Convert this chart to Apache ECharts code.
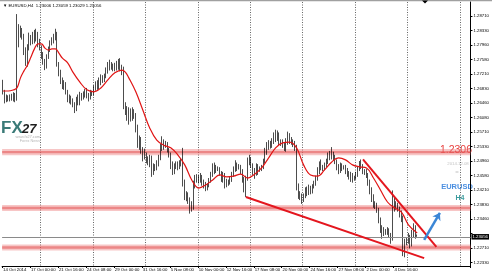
<!DOCTYPE html>
<html>
<head>
<meta charset="utf-8">
<script src="https://cdn.jsdelivr.net/npm/echarts@6/dist/echarts.min.js"></script>
<style>html,body{margin:0;padding:0;background:#fff}#c{width:492px;height:274px}</style>
</head>
<body>
<div id="c"></div>
<script>
// ---- data (EURUSD H4) ----
const barOpen = [
1.2700,1.2675,1.2652,1.2660,1.2655,1.2662,1.2657,1.2666,1.2658,1.2805,
1.2825,1.2832,1.2818,1.2780,1.2745,1.2790,1.2815,1.2805,1.2820,1.2812,
1.2825,1.2800,1.2790,1.2770,1.2752,1.2740,1.2768,1.2785,1.2800,1.2808,
1.2815,1.2822,1.2745,1.2725,1.2705,1.2690,1.2695,1.2675,1.2655,1.2660,
1.2650,1.2642,1.2630,1.2655,1.2648,1.2665,1.2660,1.2668,1.2675,1.2665,
1.2660,1.2672,1.2670,1.2685,1.2695,1.2688,1.2700,1.2712,1.2705,1.2715,
1.2730,1.2745,1.2738,1.2742,1.2735,1.2742,1.2738,1.2750,1.2735,1.2725,
1.2640,1.2630,1.2610,1.2625,1.2608,1.2625,1.2615,1.2580,1.2540,1.2550,
1.2525,1.2505,1.2510,1.2500,1.2492,1.2505,1.2470,1.2482,1.2478,1.2490,
1.2505,1.2530,1.2545,1.2535,1.2540,1.2525,1.2512,1.2485,1.2470,1.2480,
1.2488,1.2480,1.2490,1.2495,1.2440,1.2405,1.2410,1.2395,1.2375,1.2385,
1.2430,1.2448,1.2450,1.2445,1.2455,1.2440,1.2435,1.2425,1.2432,1.2445,
1.2460,1.2480,1.2470,1.2478,1.2475,1.2465,1.2450,1.2460,1.2435,1.2442,
1.2440,1.2448,1.2460,1.2475,1.2485,1.2478,1.2482,1.2470,1.2450,1.2425,
1.2450,1.2490,1.2500,1.2485,1.2470,1.2465,1.2482,1.2470,1.2475,1.2480,
1.2495,1.2520,1.2530,1.2540,1.2535,1.2548,1.2560,1.2552,1.2565,1.2540,
1.2545,1.2538,1.2530,1.2545,1.2560,1.2550,1.2545,1.2540,1.2530,1.2430,
1.2410,1.2405,1.2395,1.2405,1.2420,1.2412,1.2425,1.2418,1.2430,1.2438,
1.2450,1.2470,1.2485,1.2480,1.2478,1.2485,1.2495,1.2510,1.2505,1.2515,
1.2505,1.2495,1.2480,1.2472,1.2485,1.2478,1.2480,1.2470,1.2462,1.2455,
1.2460,1.2450,1.2452,1.2460,1.2475,1.2488,1.2482,1.2470,1.2468,1.2460,
1.2440,1.2420,1.2400,1.2385,1.2380,1.2370,1.2345,1.2320,1.2310,1.2315,
1.2312,1.2318,1.2305,1.2300,1.2390,1.2375,1.2380,1.2372,1.2360,1.2345,
1.2270,1.2285,1.2290,1.2300,1.2282,1.2305,1.2320,1.2301];
const barClose = [
1.2675,1.2652,1.2660,1.2655,1.2662,1.2657,1.2666,1.2658,1.2805,1.2825,
1.2832,1.2818,1.2780,1.2745,1.2790,1.2815,1.2805,1.2820,1.2812,1.2825,
1.2800,1.2790,1.2770,1.2752,1.2740,1.2768,1.2785,1.2800,1.2808,1.2815,
1.2822,1.2745,1.2725,1.2705,1.2690,1.2695,1.2675,1.2655,1.2660,1.2650,
1.2642,1.2630,1.2655,1.2648,1.2665,1.2660,1.2668,1.2675,1.2665,1.2660,
1.2672,1.2670,1.2685,1.2695,1.2688,1.2700,1.2712,1.2705,1.2715,1.2730,
1.2745,1.2738,1.2742,1.2735,1.2742,1.2738,1.2750,1.2735,1.2725,1.2640,
1.2630,1.2610,1.2625,1.2608,1.2625,1.2615,1.2580,1.2540,1.2550,1.2525,
1.2505,1.2520,1.2500,1.2492,1.2505,1.2470,1.2482,1.2478,1.2490,1.2505,
1.2530,1.2545,1.2535,1.2540,1.2525,1.2512,1.2485,1.2470,1.2480,1.2488,
1.2480,1.2490,1.2495,1.2440,1.2405,1.2410,1.2395,1.2375,1.2385,1.2430,
1.2448,1.2455,1.2445,1.2455,1.2440,1.2435,1.2425,1.2432,1.2445,1.2460,
1.2480,1.2470,1.2478,1.2475,1.2465,1.2450,1.2460,1.2435,1.2442,1.2440,
1.2448,1.2460,1.2475,1.2485,1.2478,1.2482,1.2470,1.2450,1.2425,1.2450,
1.2490,1.2500,1.2485,1.2470,1.2465,1.2482,1.2470,1.2475,1.2480,1.2495,
1.2520,1.2530,1.2540,1.2535,1.2548,1.2560,1.2552,1.2565,1.2540,1.2545,
1.2538,1.2530,1.2545,1.2560,1.2550,1.2545,1.2540,1.2530,1.2430,1.2410,
1.2405,1.2390,1.2405,1.2420,1.2412,1.2425,1.2418,1.2430,1.2438,1.2450,
1.2470,1.2485,1.2480,1.2478,1.2485,1.2495,1.2510,1.2505,1.2515,1.2505,
1.2495,1.2480,1.2472,1.2485,1.2478,1.2480,1.2470,1.2462,1.2455,1.2460,
1.2450,1.2452,1.2460,1.2475,1.2488,1.2482,1.2470,1.2468,1.2460,1.2440,
1.2420,1.2400,1.2385,1.2380,1.2370,1.2345,1.2320,1.2310,1.2315,1.2312,
1.2318,1.2305,1.2300,1.2390,1.2375,1.2380,1.2372,1.2360,1.2345,1.2270,
1.2285,1.2290,1.2300,1.2282,1.2305,1.2320,1.2301,1.23056];
const barLow = [
1.2668,1.2645,1.2648,1.2650,1.2650,1.2652,1.2650,1.2648,1.2652,1.2790,
1.2815,1.2810,1.2770,1.2742,1.2740,1.2782,1.2795,1.2798,1.2800,1.2805,
1.2790,1.2782,1.2760,1.2745,1.2731,1.2735,1.2760,1.2778,1.2795,1.2800,
1.2808,1.2740,1.2715,1.2695,1.2682,1.2680,1.2668,1.2648,1.2645,1.2642,
1.2635,1.2620,1.2625,1.2640,1.2640,1.2652,1.2655,1.2660,1.2658,1.2650,
1.2655,1.2664,1.2665,1.2678,1.2680,1.2682,1.2692,1.2698,1.2700,1.2710,
1.2722,1.2730,1.2732,1.2728,1.2728,1.2730,1.2732,1.2728,1.2718,1.2630,
1.2615,1.2600,1.2590,1.2598,1.2600,1.2605,1.2570,1.2530,1.2525,1.2515,
1.2495,1.2500,1.2490,1.2485,1.2480,1.2455,1.2460,1.2470,1.2472,1.2482,
1.2498,1.2522,1.2525,1.2530,1.2518,1.2505,1.2475,1.2460,1.2462,1.2475,
1.2472,1.2475,1.2482,1.2430,1.2395,1.2392,1.2385,1.2360,1.2365,1.2370,
1.2425,1.2440,1.2438,1.2440,1.2432,1.2425,1.2418,1.2420,1.2428,1.2440,
1.2455,1.2462,1.2465,1.2470,1.2458,1.2442,1.2440,1.2425,1.2428,1.2432,
1.2435,1.2442,1.2455,1.2468,1.2470,1.2474,1.2462,1.2440,1.2415,1.2403,
1.2445,1.2485,1.2478,1.2460,1.2450,1.2458,1.2460,1.2468,1.2470,1.2475,
1.2490,1.2512,1.2525,1.2528,1.2530,1.2540,1.2545,1.2548,1.2535,1.2535,
1.2530,1.2522,1.2520,1.2538,1.2540,1.2538,1.2532,1.2522,1.2420,1.2398,
1.2395,1.2385,1.2390,1.2400,1.2405,1.2408,1.2410,1.2412,1.2425,1.2432,
1.2445,1.2462,1.2472,1.2470,1.2472,1.2480,1.2488,1.2498,1.2500,1.2498,
1.2488,1.2472,1.2462,1.2465,1.2470,1.2474,1.2462,1.2455,1.2448,1.2442,
1.2440,1.2445,1.2448,1.2455,1.2470,1.2475,1.2462,1.2460,1.2452,1.2432,
1.2410,1.2390,1.2375,1.2372,1.2362,1.2335,1.2310,1.2295,1.2302,1.2305,
1.2305,1.2298,1.2282,1.2290,1.2365,1.2370,1.2365,1.2350,1.2338,1.2250,
1.2247,1.2278,1.2282,1.2270,1.2275,1.2298,1.2295,1.2300];
const barHigh = [
1.2706,1.2680,1.2668,1.2666,1.2668,1.2670,1.2674,1.2672,1.2876,1.2850,
1.2846,1.2840,1.2825,1.2790,1.2798,1.2828,1.2822,1.2830,1.2835,1.2838,
1.2830,1.2812,1.2795,1.2778,1.2760,1.2772,1.2792,1.2808,1.2816,1.2825,
1.2838,1.2830,1.2752,1.2732,1.2712,1.2705,1.2700,1.2680,1.2668,1.2665,
1.2658,1.2648,1.2662,1.2668,1.2675,1.2672,1.2676,1.2682,1.2685,1.2672,
1.2680,1.2678,1.2692,1.2702,1.2705,1.2712,1.2720,1.2718,1.2722,1.2738,
1.2752,1.2758,1.2752,1.2748,1.2750,1.2755,1.2760,1.2762,1.2745,1.2740,
1.2648,1.2638,1.2635,1.2632,1.2635,1.2630,1.2620,1.2590,1.2562,1.2558,
1.2532,1.2528,1.2518,1.2508,1.2512,1.2510,1.2490,1.2488,1.2498,1.2512,
1.2540,1.2560,1.2552,1.2548,1.2545,1.2530,1.2518,1.2495,1.2490,1.2495,
1.2495,1.2498,1.2502,1.2530,1.2448,1.2418,1.2415,1.2402,1.2392,1.2445,
1.2460,1.2462,1.2460,1.2465,1.2460,1.2448,1.2442,1.2438,1.2452,1.2468,
1.2490,1.2492,1.2486,1.2482,1.2480,1.2470,1.2468,1.2465,1.2450,1.2448,
1.2455,1.2468,1.2482,1.2498,1.2492,1.2488,1.2486,1.2475,1.2455,1.2458,
1.2505,1.2512,1.2505,1.2490,1.2478,1.2490,1.2488,1.2482,1.2486,1.2502,
1.2530,1.2545,1.2550,1.2548,1.2555,1.2570,1.2577,1.2575,1.2570,1.2552,
1.2552,1.2545,1.2555,1.2572,1.2568,1.2558,1.2552,1.2548,1.2538,1.2438,
1.2418,1.2412,1.2412,1.2428,1.2430,1.2435,1.2432,1.2436,1.2445,1.2458,
1.2480,1.2495,1.2500,1.2486,1.2492,1.2502,1.2518,1.2522,1.2532,1.2520,
1.2512,1.2500,1.2488,1.2492,1.2490,1.2485,1.2486,1.2478,1.2470,1.2468,
1.2465,1.2458,1.2468,1.2482,1.2496,1.2500,1.2488,1.2475,1.2475,1.2465,
1.2448,1.2428,1.2410,1.2392,1.2388,1.2375,1.2350,1.2330,1.2325,1.2320,
1.2325,1.2322,1.2310,1.2420,1.2405,1.2392,1.2388,1.2378,1.2368,1.2355,
1.2295,1.2298,1.2310,1.2305,1.2318,1.2335,1.2330,1.2306];
// moving average: [bar index, price]
const maPoints = [
[0,1.2677],[3,1.2677],[6,1.2680],[8,1.2685],[10,1.2711],[12,1.2729],[14,1.2744],[16,1.2765],
[18,1.2786],[20,1.2799],[22,1.2799],[24,1.2788],[26,1.2783],[28,1.2786],[30,1.2786],[32,1.2775],
[34,1.2762],[37,1.2750],[40,1.2726],[44,1.2700],[48,1.2680],[52,1.2675],[56,1.2685],[60,1.2706],
[64,1.2724],[68,1.2731],[70,1.2726],[72,1.2711],[76,1.2675],[80,1.2628],[84,1.2581],[88,1.2550],
[92,1.2537],[96,1.2530],[100,1.2512],[104,1.2486],[108,1.2447],[112,1.2426],[116,1.2434],[120,1.2447],
[124,1.2460],[128,1.2455],[132,1.2457],[136,1.2462],[140,1.2452],[144,1.2462],[148,1.2478],[152,1.2504],
[156,1.2530],[160,1.2543],[164,1.2545],[168,1.2530],[172,1.2486],[176,1.2460],[180,1.2457],[184,1.2473],
[188,1.2493],[192,1.2504],[196,1.2499],[200,1.2486],[204,1.2481],[208,1.2478],[212,1.2452],[216,1.2421],
[220,1.2390],[224,1.2375],[228,1.2364],[232,1.2331],[237,1.2310]];
// drawn objects: [bar index, price]
const lowerTrend = [[139,1.2403],[241,1.2245]];
const upperTrend = [[206,1.2500],[248,1.2274]];
const arrowLine = [[241,1.2292],[250,1.2362]];
const levelBands = [1.2519, 1.23745, 1.22723];
const lastPrice = 1.23056;
const yTickValues = [1.28710,1.28330,1.27960,1.27580,1.27210,1.26830,1.26460,1.26080,1.25710,1.25330,1.24960,1.24580,1.24210,1.23830,1.23460,1.23080,1.22710,1.22330];
const yLabelValues = yTickValues.filter(v => v !== 1.23080);
const xTickLabels = ['14 Oct 2014','17 Oct 00:00','21 Oct 16:00','24 Oct 08:00','29 Oct 00:00','31 Oct 16:00','5 Nov 08:00','10 Nov 00:00','12 Nov 16:00','17 Nov 08:00','20 Nov 00:00','24 Nov 16:00','27 Nov 08:00','2 Dec 00:00','4 Dec 16:00'];
const labelStep = 16;

// ---- H4 time categories (weekdays only), incl. empty right shift ----
const cats = [], weekStart = [];
let t = Date.UTC(2014, 9, 14, 8);
while (cats.length < 268) {
  const d = new Date(t), wd = d.getUTCDay();
  if (wd !== 0 && wd !== 6) {
    cats.push(d.toISOString().slice(0, 16).replace('T', ' '));
    weekStart.push(wd === 1 && d.getUTCHours() === 0);
  }
  t += 4 * 3600 * 1000;
}
const candles = barOpen.map((o, i) => [o, barClose[i], barLow[i], barHigh[i]]);
const isLabel = i => i % labelStep === 0 && (i / labelStep) < xTickLabels.length;
const pt = p => ({ coord: [cats[p[0]], p[1]] });

const bandAreas = [];
levelBands.forEach(c => {
  bandAreas.push([{ yAxis: c + 0.0008, itemStyle: { color: 'rgba(236,120,120,0.42)' } }, { yAxis: c - 0.0008 }]);
  bandAreas.push([{ yAxis: c + 0.0003, itemStyle: { color: 'rgba(226,72,72,0.5)' } }, { yAxis: c - 0.0003 }]);
});

const FONT = 'Liberation Sans';
const chart = echarts.init(document.getElementById('c'), null, { renderer: 'canvas' });
chart.setOption({
  animation: false,
  backgroundColor: '#fff',
  grid: { left: 0, right: 18, top: 2, bottom: 8, containLabel: false },
  xAxis: {
    type: 'category', data: cats, boundaryGap: true,
    axisLine: { lineStyle: { color: '#000', width: 1 } },
    axisTick: { show: true, interval: i => isLabel(i), length: 2, lineStyle: { color: '#000' } },
    axisLabel: { interval: i => isLabel(i), formatter: (v, i) => xTickLabels[i / labelStep], fontSize: 4.3, fontFamily: FONT, color: '#000', align: 'left', margin: 1.5 },
    splitLine: { show: true, interval: i => weekStart[i], lineStyle: { color: '#666', type: [1, 1.5], width: 1 } }
  },
  yAxis: {
    type: 'value', position: 'right', min: 1.22245, max: 1.29072, scale: true,
    axisLine: { show: true, lineStyle: { color: '#000', width: 1 } },
    axisTick: { show: true, length: 2, customValues: yTickValues, lineStyle: { color: '#000' } },
    axisLabel: { customValues: yLabelValues, formatter: v => v.toFixed(5), fontSize: 4.3, fontFamily: FONT, color: '#000', margin: 3 },
    splitLine: { show: false }
  },
  series: [
    { type: 'line', name: 'bands', data: [], z: 1, silent: true,
      markArea: { silent: true, data: bandAreas } },
    { type: 'candlestick', name: 'EURUSD', data: candles, z: 3, barWidth: 1.2,
      itemStyle: { color: '#ffffff', color0: '#000000', borderColor: '#000', borderColor0: '#000', borderWidth: 0.7 },
      markLine: { silent: true, symbol: ['none', 'none'], label: { show: false },
        data: [
          { yAxis: lastPrice, lineStyle: { color: '#8a8a8a', width: 1, type: 'solid' },
            label: { show: true, position: 'end', distance: 1, formatter: lastPrice.toFixed(5), backgroundColor: '#000', color: '#fff', fontSize: 4.3, fontFamily: FONT, padding: [1, 1, 0.5, 1] } },
          [Object.assign(pt(lowerTrend[0]), { lineStyle: { color: '#e4161e', width: 2, type: 'solid' } }), pt(lowerTrend[1])],
          [Object.assign(pt(upperTrend[0]), { lineStyle: { color: '#e4161e', width: 2, type: 'solid' } }), pt(upperTrend[1])]
        ] } },
    { type: 'line', name: 'MA', data: maPoints.map(p => [cats[p[0]], p[1]]), z: 4, smooth: 0.4,
      symbol: 'none', lineStyle: { color: '#e01414', width: 1.2 },
      markLine: { silent: true, symbol: ['none', 'arrow'], symbolSize: 7, label: { show: false },
        lineStyle: { color: '#3b86d6', width: 2.5, type: 'solid' },
        data: [[pt(arrowLine[0]), pt(arrowLine[1])]] } }
  ],
  graphic: [
    { type: 'rect', shape: { x: 0, y: 0, width: 492, height: 1.2 }, style: { fill: '#a0a0a0' }, silent: true },
    { type: 'polygon', shape: { points: [[422, 0.5], [428, 0.5], [425, 3.5]] }, style: { fill: '#000' }, silent: true },
    { type: 'text', x: 3, y: 5.5, style: { text: '▼ EURUSD,H4  1.23006 1.23059 1.23029 1.23056', font: '4.3px ' + FONT, fill: '#000', verticalAlign: 'middle' }, silent: true },
    { type: 'text', x: 1, y: 128, style: { text: 'FX', font: 'bold 17px ' + FONT, fill: '#3a7a77', verticalAlign: 'middle' }, silent: true },
    { type: 'text', x: 22, y: 129.5, style: { text: '27', font: 'italic bold 13px ' + FONT, fill: '#1e1e1e', verticalAlign: 'middle' }, silent: true },
    { type: 'text', x: 40, y: 136.5, style: { text: 'www.fx27.com', font: '3.8px ' + FONT, fill: '#b0b0b0', align: 'right', verticalAlign: 'middle' }, silent: true },
    { type: 'text', x: 40, y: 140.5, style: { text: 'Forex News', font: '3.8px ' + FONT, fill: '#b8b8b8', align: 'right', verticalAlign: 'middle' }, silent: true },
    { type: 'text', x: 472, y: 150, style: { text: '1.2306', font: '10.5px ' + FONT, fill: '#e8413f', align: 'right', verticalAlign: 'middle' }, silent: true },
    { type: 'text', x: 458, y: 163.5, style: { text: '2014.12.08', font: '4.3px ' + FONT, fill: '#c4c4c4', align: 'center', verticalAlign: 'middle' }, silent: true },
    { type: 'text', x: 457, y: 172, style: { text: '=', font: '6px ' + FONT, fill: '#c4c4c4', align: 'center', verticalAlign: 'middle' }, silent: true },
    { type: 'text', x: 457, y: 187, style: { text: 'EURUSD', font: 'bold 7.5px ' + FONT, fill: '#4a8ee0', align: 'center', verticalAlign: 'middle' }, silent: true },
    { type: 'text', x: 460, y: 198, style: { text: 'H4', font: 'bold 7px ' + FONT, fill: '#3c9c9e', align: 'center', verticalAlign: 'middle' }, silent: true }
  ]
});
</script>
</body>
</html>
